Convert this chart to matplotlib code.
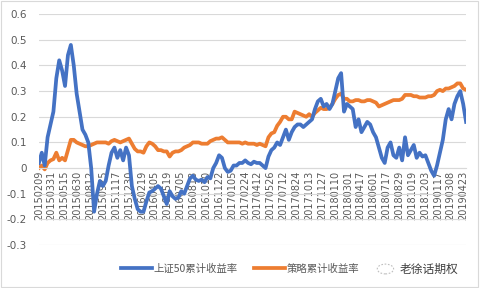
import numpy as np
import matplotlib.pyplot as plt
from matplotlib.patches import Rectangle, Circle

# Couleurs (style Excel)
_COL_SSE = "#4472C4"
_COL_STRAT = "#ED7D31"
_COL_GRID = "#D9D9D9"
_COL_TXT = "#595959"

# Pas d'échantillonnage (jours de bourse) et intervalle des étiquettes
STEP = 7
LABEL_EVERY = 31

# Étiquettes de l'axe des dates
date_labels = [
    "20150209", "20150331", "20150515", "20150630", "20150812", "20150925",
    "20151117", "20151230", "20160219", "20160405", "20160519", "20160705",
    "20160818", "20161010", "20161122", "20170105", "20170224", "20170412",
    "20170526", "20170712", "20170824", "20171013", "20171127", "20180110",
    "20180301", "20180417", "20180601", "20180717", "20180829", "20181019",
    "20181203", "20190117", "20190308", "20190423",
]

# Rendement cumulé SSE 50
sse50 = [
    0.02, 0.06, 0.01, 0.12, 0.17, 0.22, 0.35, 0.42, 0.38, 0.32,
    0.44, 0.48, 0.40, 0.29, 0.22, 0.15, 0.13, 0.10, 0.0, -0.17,
    -0.10, -0.05, -0.07, -0.05, 0.01, 0.06, 0.08, 0.04, 0.07, 0.03,
    0.08, 0.05, -0.07, -0.12, -0.16, -0.17, -0.17, -0.13, -0.095, -0.09,
    -0.08, -0.07, -0.08, -0.11, -0.14, -0.09, -0.11, -0.12, -0.115, -0.09,
    -0.10, -0.07, -0.04, -0.03, -0.045, -0.05, -0.045, -0.055, -0.035, -0.04,
    0.0, 0.02, 0.05, 0.04, 0.0, -0.015, -0.01, 0.01, 0.01, 0.02,
    0.02, 0.03, 0.02, 0.015, 0.025, 0.02, 0.02, 0.01, 0.0, 0.045,
    0.07, 0.08, 0.10, 0.09, 0.12, 0.15, 0.11, 0.14, 0.16, 0.17,
    0.17, 0.16, 0.17, 0.18, 0.19, 0.23, 0.26, 0.27, 0.24, 0.25,
    0.23, 0.25, 0.30, 0.35, 0.37, 0.22, 0.25, 0.24, 0.23, 0.16,
    0.19, 0.14, 0.16, 0.18, 0.17, 0.14, 0.12, 0.08, 0.04, 0.02,
    0.08, 0.10, 0.05, 0.04, 0.08, 0.03, 0.12, 0.05, 0.07, 0.09,
    0.04, 0.06, 0.045, 0.05, 0.02, -0.01, -0.03, 0.01, 0.06, 0.11,
    0.19, 0.23, 0.19, 0.25, 0.28, 0.30, 0.25, 0.18,
]

# Rendement cumulé de la stratégie
strategy = [
    0.0, 0.01, -0.005, 0.02, 0.03, 0.035, 0.06, 0.03, 0.04, 0.03,
    0.07, 0.11, 0.11, 0.10, 0.095, 0.09, 0.085, 0.085, 0.09, 0.095,
    0.10, 0.10, 0.10, 0.10, 0.095, 0.105, 0.11, 0.105, 0.10, 0.105,
    0.11, 0.115, 0.095, 0.075, 0.065, 0.065, 0.06, 0.085, 0.10, 0.095,
    0.085, 0.07, 0.07, 0.065, 0.065, 0.045, 0.06, 0.065, 0.065, 0.07,
    0.08, 0.085, 0.09, 0.10, 0.10, 0.10, 0.095, 0.095, 0.095, 0.105,
    0.11, 0.115, 0.115, 0.12, 0.11, 0.10, 0.10, 0.10, 0.10, 0.10,
    0.095, 0.10, 0.095, 0.095, 0.095, 0.09, 0.095, 0.09, 0.085, 0.12,
    0.135, 0.14, 0.165, 0.18, 0.20, 0.20, 0.19, 0.19, 0.22, 0.215,
    0.21, 0.205, 0.20, 0.21, 0.20, 0.215, 0.225, 0.235, 0.23, 0.23,
    0.235, 0.25, 0.27, 0.285, 0.29, 0.27, 0.27, 0.26, 0.26, 0.265,
    0.265, 0.26, 0.26, 0.265, 0.265, 0.26, 0.255, 0.24, 0.245, 0.25,
    0.255, 0.26, 0.265, 0.265, 0.265, 0.27, 0.285, 0.285, 0.285, 0.28,
    0.28, 0.275, 0.275, 0.275, 0.28, 0.28, 0.285, 0.30, 0.305, 0.30,
    0.31, 0.31, 0.315, 0.32, 0.33, 0.33, 0.31, 0.305,
]

x = np.arange(len(sse50)) * STEP
ticks = np.arange(len(date_labels)) * LABEL_EVERY

fig = plt.figure(figsize=(4.8, 2.88), dpi=100)
ax = fig.add_axes([0.081, 0.149, 0.890, 0.802])

# axe des catégories placé à y = 0 (avant de fixer les ticks : set_position les réinitialise)
for side in ["top", "right", "left"]:
    ax.spines[side].set_visible(False)
ax.spines["bottom"].set_position(("data", 0))
ax.spines["bottom"].set_color(_COL_GRID)

ax.plot(x, sse50, color=_COL_SSE, lw=2.7, label="上证50累计收益率",
        solid_joinstyle="round", zorder=3)
ax.plot(x, strategy, color=_COL_STRAT, lw=2.7, label="策略累计收益率",
        solid_joinstyle="round", zorder=2)

ax.set_xlim(0, x[-1])
ax.set_ylim(-0.3, 0.6)
ax.set_yticks(np.arange(-0.3, 0.61, 0.1))
ax.set_yticklabels(["-0.3", "-0.2", "-0.1", "0", "0.1", "0.2", "0.3", "0.4", "0.5", "0.6"])
ax.grid(axis="y", color=_COL_GRID, lw=0.8)
ax.set_axisbelow(True)

ax.set_xticks(ticks)
ax.set_xticklabels(date_labels, rotation=90, fontsize=7, color=_COL_TXT)
ax.tick_params(axis="x", length=0, pad=2)
ax.tick_params(axis="y", length=0, pad=9, labelsize=7.5, labelcolor=_COL_TXT)
for lbl in ax.get_xticklabels():
    lbl.set_zorder(4)

# Légende
leg = fig.legend(loc="center", bbox_to_anchor=(0.5, 0.066), ncol=2, frameon=False,
                 prop={"family": ["Noto Sans CJK SC", "DejaVu Sans"], "size": 7.5},
                 handlelength=3.0, handletextpad=0.1, columnspacing=1.6)
for t in leg.get_texts():
    t.set_color(_COL_TXT)

# Filigrane
fig.patches.append(Circle((0.803, 0.066), 0.017, transform=fig.transFigure,
                          fill=False, ec="#BFBFBF", lw=0.8, ls=(0, (1.5, 1.5))))
fig.text(0.833, 0.066, "老徐话期权", family=["Noto Sans CJK SC", "DejaVu Sans"],
         fontsize=8.5, color="#404040", va="center", ha="left")

# Cadre extérieur
fig.patches.append(Rectangle((0.002, 0.004), 0.994, 0.992, transform=fig.transFigure,
                             fill=False, ec=_COL_GRID, lw=0.8))

fig.savefig("out.png", dpi=100, facecolor="white")
plt.close()
